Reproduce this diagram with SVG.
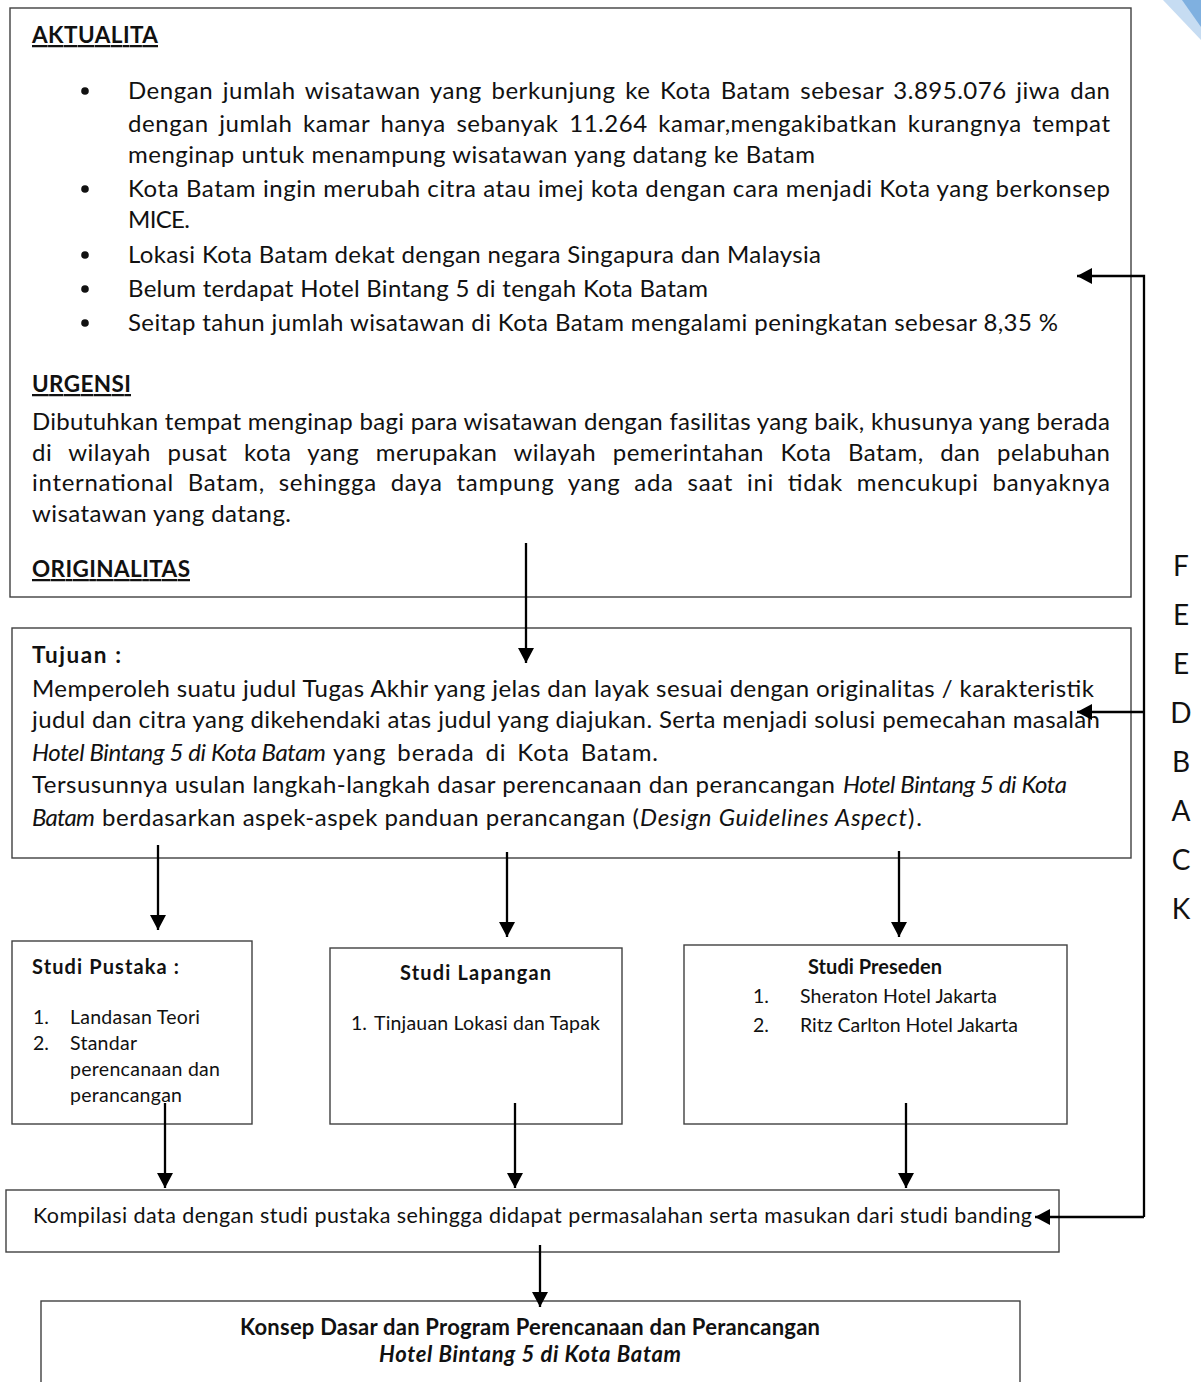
<svg xmlns="http://www.w3.org/2000/svg" width="1201" height="1382" viewBox="0 0 1201 1382">
<style>
.box{fill:#fff;stroke:#404040;stroke-width:1.4}
text{font-family:Lato,'Liberation Sans',sans-serif;fill:#111}
.b{font-size:24px}
.h{font-size:22.5px;font-weight:bold;text-decoration:underline}
.hb{font-size:22.5px;font-weight:bold}
.s{font-size:19.5px}
.sb{font-size:20px;font-weight:bold}
.k{font-size:21.5px}
.kb{font-size:22px;font-weight:bold}
.i{font-style:italic}
.fb{font-size:28px}
.conn{stroke:#000;stroke-width:2.3;fill:none}
.dot{fill:#111}
</style>
<defs>
<marker id="ah" markerUnits="userSpaceOnUse" markerWidth="16" markerHeight="16" refX="15" refY="8" orient="auto">
<path d="M0,0 L15,8 L0,16 Z" fill="#000"/>
</marker>
</defs>
<rect width="1201" height="1382" fill="#fff"/>
<g id="decoration">
<polygon points="1163,0 1201,0 1201,40" fill="#c6dcf2"/>
<polygon points="1182,0 1201,0 1201,27" fill="#7fb0e0"/>
</g>

<g id="aktualita">
<rect class="box" x="10" y="8" width="1121" height="589"/>
<text class="h" x="32" y="43" textLength="126">AKTUALITA</text>
<circle class="dot" cx="85" cy="91" r="3.8"/>
<circle class="dot" cx="85" cy="189" r="3.8"/>
<circle class="dot" cx="85" cy="255" r="3.8"/>
<circle class="dot" cx="85" cy="289" r="3.8"/>
<circle class="dot" cx="85" cy="323" r="3.8"/>
<text class="b" x="128" y="99" textLength="982" word-spacing="3">Dengan jumlah wisatawan yang berkunjung ke Kota Batam sebesar 3.895.076 jiwa dan</text>
<text class="b" x="128" y="132" textLength="982" word-spacing="4">dengan jumlah kamar hanya sebanyak 11.264 kamar,mengakibatkan kurangnya tempat</text>
<text class="b" x="128" y="163" textLength="687">menginap untuk menampung wisatawan yang datang ke Batam</text>
<text class="b" x="128" y="197" textLength="982">Kota Batam ingin merubah citra atau imej kota dengan cara menjadi Kota yang berkonsep</text>
<text class="b" x="128" y="228" textLength="62">MICE.</text>
<text class="b" x="128" y="263" textLength="693">Lokasi Kota Batam dekat dengan negara Singapura dan Malaysia</text>
<text class="b" x="128" y="297" textLength="580">Belum terdapat Hotel Bintang 5 di tengah Kota Batam</text>
<text class="b" x="128" y="331" textLength="930">Seitap tahun jumlah wisatawan di Kota Batam mengalami peningkatan sebesar 8,35 %</text>
<text class="h" x="32" y="392" textLength="99">URGENSI</text>
<text class="b" x="32" y="430" textLength="1078">Dibutuhkan tempat menginap bagi para wisatawan dengan fasilitas yang baik, khusunya yang berada</text>
<text class="b" x="32" y="461" textLength="1078" word-spacing="10">di wilayah pusat kota yang merupakan wilayah pemerintahan Kota Batam, dan pelabuhan</text>
<text class="b" x="32" y="491" textLength="1078" word-spacing="7">international Batam, sehingga daya tampung yang ada saat ini tidak mencukupi banyaknya</text>
<text class="b" x="32" y="522" textLength="259">wisatawan yang datang.</text>
<text class="h" x="32" y="577" textLength="158">ORIGINALITAS</text>
</g>

<g id="tujuan">
<rect class="box" x="12" y="628" width="1119" height="230"/>
<text class="hb" x="32" y="663" textLength="89">Tujuan :</text>
<text class="b" x="32" y="697" textLength="1062">Memperoleh suatu judul Tugas Akhir yang jelas dan layak sesuai dengan originalitas / karakteristik</text>
<text class="b" x="32" y="728" textLength="1068">judul dan citra yang dikehendaki atas judul yang diajukan. Serta menjadi solusi pemecahan masalah</text>
<text class="b i" x="32" y="761" textLength="294">Hotel Bintang 5 di Kota Batam</text>
<text class="b" x="333" y="761" textLength="325" word-spacing="4">yang berada di Kota Batam.</text>
<text class="b" x="32" y="793" textLength="803">Tersusunnya usulan langkah-langkah dasar perencanaan dan perancangan</text>
<text class="b i" x="843" y="793" textLength="224">Hotel Bintang 5 di Kota</text>
<text class="b i" x="32" y="826" textLength="63">Batam</text>
<text class="b" x="102" y="826" textLength="537">berdasarkan aspek-aspek panduan perancangan (</text>
<text class="b i" x="640" y="826" textLength="267">Design Guidelines Aspect</text>
<text class="b" x="908" y="826" textLength="14">).</text>
</g>

<g id="studi-pustaka">
<rect class="box" x="12" y="941" width="240" height="183"/>
<text class="sb" x="32" y="974" textLength="147">Studi Pustaka :</text>
<text class="s" x="33" y="1024">1.</text>
<text class="s" x="70" y="1024" textLength="130">Landasan Teori</text>
<text class="s" x="33" y="1050">2.</text>
<text class="s" x="70" y="1050" textLength="67">Standar</text>
<text class="s" x="70" y="1076" textLength="150">perencanaan dan</text>
<text class="s" x="70" y="1102" textLength="112">perancangan</text>
</g>

<g id="studi-lapangan">
<rect class="box" x="330" y="948" width="292" height="176"/>
<text class="sb" x="400" y="980" textLength="151">Studi Lapangan</text>
<text class="s" x="351" y="1030">1.</text>
<text class="s" x="374" y="1030" textLength="226">Tinjauan Lokasi dan Tapak</text>
</g>

<g id="studi-preseden">
<rect class="box" x="684" y="945" width="383" height="179"/>
<text class="sb" x="808" y="974" textLength="134">Studi Preseden</text>
<text class="s" x="753" y="1003">1.</text>
<text class="s" x="800" y="1003" textLength="197">Sheraton Hotel Jakarta</text>
<text class="s" x="753" y="1032">2.</text>
<text class="s" x="800" y="1032" textLength="218">Ritz Carlton Hotel Jakarta</text>
</g>

<g id="kompilasi">
<rect class="box" x="6" y="1190" width="1053" height="62"/>
<text class="k" x="33" y="1223" textLength="999">Kompilasi data dengan studi pustaka sehingga didapat permasalahan serta masukan dari studi banding</text>
</g>

<g id="konsep">
<rect class="box" x="41" y="1301" width="979" height="120"/>
<text class="kb" x="240" y="1335" textLength="580">Konsep Dasar dan Program Perencanaan dan Perancangan</text>
<text class="kb i" x="379" y="1362" textLength="302">Hotel Bintang 5 di Kota Batam</text>
</g>

<g id="feedback-label">
<text class="fb" x="1181" y="576" text-anchor="middle">F</text>
<text class="fb" x="1181" y="625" text-anchor="middle">E</text>
<text class="fb" x="1181" y="674" text-anchor="middle">E</text>
<text class="fb" x="1181" y="723" text-anchor="middle">D</text>
<text class="fb" x="1181" y="772" text-anchor="middle">B</text>
<text class="fb" x="1181" y="821" text-anchor="middle">A</text>
<text class="fb" x="1181" y="870" text-anchor="middle">C</text>
<text class="fb" x="1181" y="919" text-anchor="middle">K</text>
</g>

<g id="connectors">
<path class="conn" d="M1144,1217 V276 H1077" marker-end="url(#ah)"/>
<path class="conn" d="M1144,712 H1077" marker-end="url(#ah)"/>
<path class="conn" d="M1144,1217 H1035" marker-end="url(#ah)"/>
<path class="conn" d="M526,543 V663" marker-end="url(#ah)"/>
<path class="conn" d="M158,845 V930" marker-end="url(#ah)"/>
<path class="conn" d="M507,852 V937" marker-end="url(#ah)"/>
<path class="conn" d="M899,851 V937" marker-end="url(#ah)"/>
<path class="conn" d="M165,1103 V1188" marker-end="url(#ah)"/>
<path class="conn" d="M515,1103 V1188" marker-end="url(#ah)"/>
<path class="conn" d="M906,1103 V1188" marker-end="url(#ah)"/>
<path class="conn" d="M540,1245 V1307" marker-end="url(#ah)"/>
</g>
</svg>
